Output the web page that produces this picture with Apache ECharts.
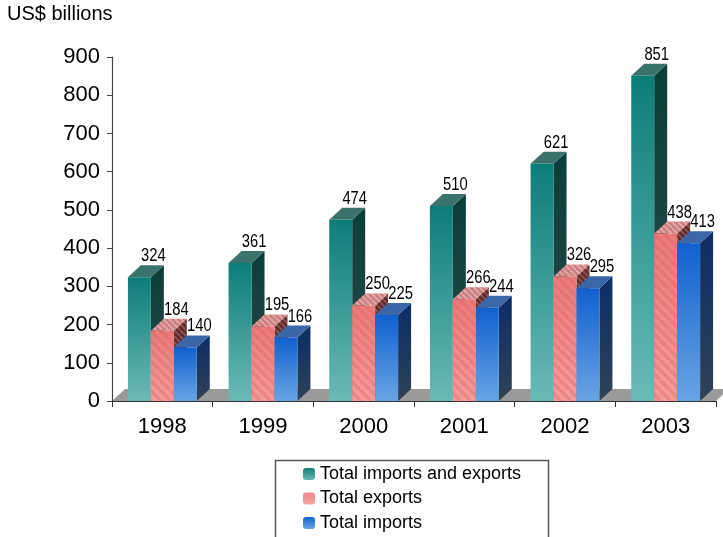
<!DOCTYPE html>
<html>
<head>
<meta charset="utf-8">
<script src="https://cdn.jsdelivr.net/npm/echarts@6/dist/echarts.min.js"></script>
<style>
html,body{margin:0;padding:0;background:#fff;}
#chart{width:723px;height:537px;}
</style>
</head>
<body>
<div id="chart"></div>
<script>
const years = ['1998','1999','2000','2001','2002','2003'];
const totalTrade = [324, 361, 474, 510, 621, 851];
const totalExports = [184, 195, 250, 266, 326, 438];
const totalImports = [140, 166, 225, 244, 295, 413];
const seriesNames = ['Total imports and exports','Total exports','Total imports'];
const yTicks = [0,100,200,300,400,500,600,700,800,900];

const GRID_L = 112, GRID_R = 716, DX = 13, DY = 12;

function lg(c1, c2) {
  return new echarts.graphic.LinearGradient(0,0,0,1,[{offset:0,color:c1},{offset:1,color:c2}]);
}
function stripes(base, line, alpha, size, lw) {
  const s = size || 8;
  const c = document.createElement('canvas');
  c.width = s; c.height = s;
  const ctx = c.getContext('2d');
  ctx.fillStyle = base; ctx.fillRect(0,0,s,s);
  ctx.strokeStyle = line; ctx.globalAlpha = alpha; ctx.lineWidth = lw || 2.5;
  for (let k=-s;k<=2*s;k+=s){ ctx.beginPath(); ctx.moveTo(k,0); ctx.lineTo(k+s,s); ctx.stroke(); }
  return {image: c, repeat: 'repeat'};
}

const styles = [
  { front: lg('#0d7d78','#6bbab6'), side: lg('#0a3e3a','#2e4b4d'), top: '#3c726e', legend: lg('#137f7a','#6ab8b4') },
  { front: lg('#ec7a7a','#f69c9c'), side: stripes('#5a2c2c','#9c5a5a',0.8,6,2), top: stripes('#c87f7f','#e9a9a9',0.9,6,2), legend: lg('#f08888','#f5a3a3'), overlay: stripes('rgba(0,0,0,0)','#d45a5a',0.3,10,3.5) },
  { front: lg('#1160cf','#68a5e4'), side: lg('#0c2d66','#2f4256'), top: '#3b66a8', legend: lg('#1464d0','#65a2e2') }
];

function makeRender(si) {
  return function(params, api) {
    const ci = api.value(0), v = api.value(1);
    const top = api.coord([ci, v]);
    const base = api.coord([ci, 0]);
    const W = api.size([1, 0])[0];
    const bw = W * 0.228;
    const x0 = top[0] + (si - 1.5) * bw;
    const x1 = x0 + bw;
    const yt = top[1], yb = base[1];
    const st = styles[si];
    const children = [
      { type: 'polygon', shape: { points: [[x1,yb],[x1+DX,yb-DY],[x1+DX,yt-DY],[x1,yt]] }, style: { fill: st.side } },
      { type: 'polygon', shape: { points: [[x0,yt],[x0+DX,yt-DY],[x1+DX,yt-DY],[x1,yt]] }, style: { fill: st.top } },
      { type: 'rect', shape: { x: x0, y: yt, width: bw, height: yb - yt }, style: { fill: st.front } }
    ];
    if (st.overlay) {
      children.push({ type: 'rect', shape: { x: x0, y: yt, width: bw, height: yb - yt }, style: { fill: st.overlay } });
    }
    children.push({
      type: 'text',
      x: x0 + bw/2 + DX + 1, y: yt - DY,
      scaleX: 0.82,
      style: { text: String(v), x: 0, y: 0, align: 'center', verticalAlign: 'bottom',
               fill: '#000', font: "18px 'Liberation Sans', Arial, sans-serif" }
    });
    return { type: 'group', children: children };
  };
}

const dataSets = [totalTrade, totalExports, totalImports];
const series = dataSets.map((arr, si) => ({
  type: 'custom',
  name: seriesNames[si],
  coordinateSystem: 'cartesian2d',
  renderItem: makeRender(si),
  clip: false,
  z: 3,
  itemStyle: { color: styles[si].legend },
  encode: { x: 0, y: 1 },
  data: arr.map((v, i) => [i, v])
}));

const chart = echarts.init(document.getElementById('chart'));
const baseGraphic = [
  { type: 'text', left: 7, top: 4, style: { text: 'US$ billions', font: "20px 'Liberation Sans', Arial, sans-serif", fill: '#000' } },
  { type: 'rect', shape: { x: 275.5, y: 460.5, width: 273, height: 100 }, style: { fill: 'none', stroke: '#555', lineWidth: 1.5 }, z: 0 }
];
chart.setOption({
  animation: false,
  backgroundColor: '#fff',
  textStyle: { fontFamily: "'Liberation Sans', Arial, sans-serif" },
  grid: { left: GRID_L, right: 723 - GRID_R, top: 57, bottom: 136, containLabel: false },
  xAxis: {
    type: 'category',
    data: years,
    axisLine: { lineStyle: { color: '#333', width: 1.2 } },
    axisTick: { show: true, length: 6, lineStyle: { color: '#333' } },
    axisLabel: { fontSize: 22, color: '#000', margin: 15 }
  },
  yAxis: {
    type: 'value',
    min: yTicks[0], max: yTicks[yTicks.length - 1], interval: 100,
    axisLine: { show: true, lineStyle: { color: '#444', width: 1.2 } },
    axisTick: { show: true, length: 5, lineStyle: { color: '#444' } },
    splitLine: { show: false },
    axisLabel: { fontSize: 22, color: '#000', margin: 12 }
  },
  legend: {
    orient: 'vertical',
    left: 303, top: 465,
    padding: 0,
    itemWidth: 12, itemHeight: 12, itemGap: 6.5,
    textStyle: { fontSize: 18, color: '#000' },
    data: seriesNames
  },
  graphic: baseGraphic,
  series: series
});

const y0 = chart.convertToPixel({ yAxisIndex: 0 }, 0);
chart.setOption({
  graphic: baseGraphic.concat([
    { type: 'polygon', shape: { points: [[GRID_L, y0], [GRID_R, y0], [GRID_R + DX, y0 - DY], [GRID_L + DX, y0 - DY]] }, style: { fill: '#9a9a9a' }, z: -1 }
  ])
});
</script>
</body>
</html>
